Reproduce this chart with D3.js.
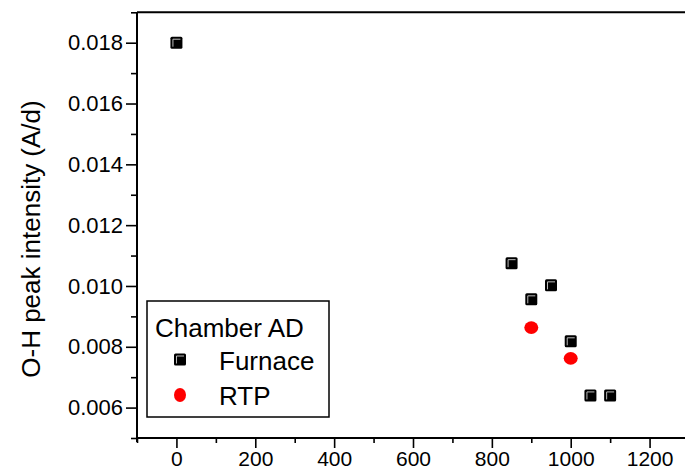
<!DOCTYPE html>
<html>
<head>
<meta charset="utf-8">
<script src="https://cdn.jsdelivr.net/npm/d3@7"></script>
<style>
    body { margin: 0; background: #ffffff; }
    svg { display: block; font-family: "Liberation Sans", Arial, sans-serif; }
</style>
</head>
<body>
<div id="chart"></div>
<script>
// Data
const furnaceTemp = [0, 850, 900, 950, 1000, 1050, 1100];
const furnaceOH = [0.0180, 0.01075, 0.00956, 0.01002, 0.00818, 0.00640, 0.00640];
const rtpTemp = [900, 1000];
const rtpOH = [0.00863, 0.00762];

const xMajorTicks = [0, 200, 400, 600, 800, 1000, 1200];
const xMinorTicks = [-100, 100, 300, 500, 700, 900, 1100, 1300];
const yMajorTicks = [0.006, 0.008, 0.010, 0.012, 0.014, 0.016, 0.018];
const yMinorTicks = [0.005, 0.007, 0.009, 0.011, 0.013, 0.015, 0.017, 0.019];

const legendTitle = "Chamber AD";
const seriesNames = ["Furnace", "RTP"];
const yTitle = "O-H peak intensity (A/d)";

function drawChart() {
    const width = 685;
    const height = 470;

    const svg = d3.select("#chart")
        .append("svg")
        .attr("width", width)
        .attr("height", height);

    const x = d3.scaleLinear()
        .domain([-100, 1300])
        .range([137, 689]);

    const y = d3.scaleLinear()
        .domain([0.005, 0.019])
        .range([438, 12.3]);

    // Frame (top and right sides)
    svg.append("path")
        .attr("d", `M${x.range()[0]},${y.range()[1]}H${x.range()[1]}V${y.range()[0]}`)
        .attr("fill", "none")
        .attr("stroke", "#000")
        .attr("stroke-width", 2);

    // x axis
    const xAxis = svg.append("g")
        .attr("transform", `translate(0,${y.range()[0]})`)
        .call(d3.axisBottom(x).tickValues(xMajorTicks).tickSize(10).tickPadding(3).tickFormat(d3.format("d")));
    svg.append("g")
        .attr("transform", `translate(0,${y.range()[0]})`)
        .call(d3.axisBottom(x).tickValues(xMinorTicks).tickSize(5).tickFormat(""))
        .select(".domain").remove();

    // y axis
    const yAxis = svg.append("g")
        .attr("transform", `translate(${x.range()[0]},0)`)
        .call(d3.axisLeft(y).tickValues(yMajorTicks).tickSize(11).tickPadding(3).tickFormat(d3.format(".3f")));
    svg.append("g")
        .attr("transform", `translate(${x.range()[0]},0)`)
        .call(d3.axisLeft(y).tickValues(yMinorTicks).tickSize(6).tickFormat(""))
        .select(".domain").remove();

    svg.selectAll(".domain").attr("stroke-width", 2).attr("d", null);
    // axis lines drawn plainly so they don't get end caps
    svg.append("line")
        .attr("x1", x.range()[0]).attr("x2", x.range()[1])
        .attr("y1", y.range()[0]).attr("y2", y.range()[0])
        .attr("stroke", "#000").attr("stroke-width", 2);
    svg.append("line")
        .attr("x1", x.range()[0]).attr("x2", x.range()[0])
        .attr("y1", y.range()[1]).attr("y2", y.range()[0] + 4)
        .attr("stroke", "#000").attr("stroke-width", 2);

    svg.selectAll(".tick line").attr("stroke-width", 1.6);
    xAxis.selectAll("text").attr("font-size", 21).attr("fill", "#000");
    yAxis.selectAll("text").attr("font-size", 22).attr("fill", "#000");

    // y axis title
    svg.append("text")
        .attr("transform", "rotate(-90)")
        .attr("x", -239)
        .attr("y", 40)
        .attr("text-anchor", "middle")
        .attr("font-size", 26)
        .text(yTitle);

    // Square marker, Origin style with a light inner edge
    function drawSquare(g, cx, cy) {
        g.append("rect")
            .attr("x", cx - 6).attr("y", cy - 6)
            .attr("width", 12).attr("height", 12)
            .attr("rx", 1.5)
            .attr("fill", "#000");
        g.append("path")
            .attr("d", `M${cx - 3.5},${cy + 4}V${cy - 3.5}H${cx + 4}`)
            .attr("fill", "none")
            .attr("stroke", "#bbb")
            .attr("stroke-width", 1);
    }

    // Furnace points
    const furnace = svg.append("g");
    furnaceTemp.forEach((t, i) => drawSquare(furnace, x(t), y(furnaceOH[i])));

    // RTP points
    svg.append("g")
        .selectAll("ellipse")
        .data(rtpTemp)
        .enter().append("ellipse")
        .attr("cx", d => x(d))
        .attr("cy", (d, i) => y(rtpOH[i]))
        .attr("rx", 7)
        .attr("ry", 6.3)
        .attr("fill", "#ff0000");

    // Legend
    const legend = svg.append("g");
    legend.append("rect")
        .attr("x", 147).attr("y", 301)
        .attr("width", 182).attr("height", 116)
        .attr("fill", "#fff")
        .attr("stroke", "#000")
        .attr("stroke-width", 1.5);
    legend.append("text")
        .attr("x", 155).attr("y", 336.5)
        .attr("font-size", 26)
        .text(legendTitle);
    drawSquare(legend, 180, 359.5);
    legend.append("ellipse")
        .attr("cx", 180).attr("cy", 395)
        .attr("rx", 6).attr("ry", 7)
        .attr("fill", "#ff0000");
    legend.selectAll("text.item")
        .data(seriesNames)
        .enter().append("text")
        .attr("class", "item")
        .attr("x", 219)
        .attr("y", (d, i) => 369.5 + i * 35)
        .attr("font-size", 26)
        .text(d => d);
}

drawChart();
</script>
</body>
</html>
